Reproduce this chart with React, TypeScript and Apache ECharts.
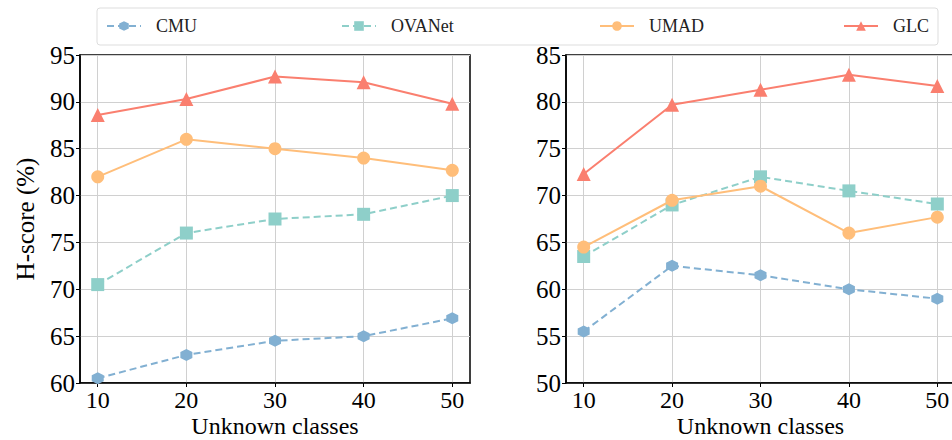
import React, { useEffect, useRef } from "react";
import * as echarts from "echarts";

const xValues = [10, 20, 30, 40, 50];
const seriesNames = ["CMU", "OVANet", "UMAD", "GLC"];

const leftCMU = [60.5, 63, 64.5, 65, 66.9];
const leftOVANet = [70.5, 76, 77.5, 78, 80];
const leftUMAD = [82, 86, 85, 84, 82.7];
const leftGLC = [88.6, 90.3, 92.7, 92.1, 89.8];

const rightCMU = [55.5, 62.5, 61.5, 60, 59];
const rightOVANet = [63.5, 69, 72, 70.5, 69.1];
const rightUMAD = [64.5, 69.5, 71, 66, 67.7];
const rightGLC = [72.3, 79.7, 81.3, 82.9, 81.7];

const leftYTicks = [60, 65, 70, 75, 80, 85, 90, 95];
const rightYTicks = [50, 55, 60, 65, 70, 75, 80, 85];

const COLORS = ["#82B0D2", "#8ECFC9", "#FFBE7A", "#FA7F6F"];
const HEX = "path://M0,-1 L0.866,-0.5 L0.866,0.5 L0,1 L-0.866,0.5 L-0.866,-0.5 Z";
const SYMBOLS = [HEX, "rect", "circle", "triangle"];
const SIZES = [12, 13, 13, 14];
const DASHED = [true, true, false, false];
const FONT = "'Liberation Serif', 'Times New Roman', serif";

export default function App() {
  const ref = useRef<HTMLDivElement>(null);
  useEffect(() => {
    if (!ref.current) return;
    const chart = echarts.init(ref.current, undefined, { renderer: "svg" });
    const leftData = [leftCMU, leftOVANet, leftUMAD, leftGLC];
    const rightData = [rightCMU, rightOVANet, rightUMAD, rightGLC];

    const mkSeries = (data: number[][], idx: number) =>
      data.map((vals, i) => ({
        name: seriesNames[i],
        type: "line",
        xAxisIndex: idx,
        yAxisIndex: idx,
        data: vals.map((v, j) => [xValues[j], v]),
        symbol: SYMBOLS[i],
        symbolSize: SIZES[i],
        showSymbol: true,
        itemStyle: { color: COLORS[i] },
        lineStyle: { color: COLORS[i], width: 2, type: DASHED[i] ? [7, 4] : "solid" },
        z: 3 + i,
      }));

    const xAxis = (gridIndex: number) => ({
      type: "value",
      gridIndex,
      min: 8,
      max: 52,
      name: "Unknown classes",
      nameLocation: "middle",
      nameGap: 31,
      nameMoveOverlap: false,
      nameTextStyle: { fontFamily: FONT, fontSize: 24, color: "#000", lineHeight: 24 },
      axisLine: { show: true, lineStyle: { color: "#000", width: 1.5 } },
      axisTick: { show: true, length: 4, inside: false, customValues: xValues, lineStyle: { color: "#000" } },
      axisLabel: { customValues: xValues, fontFamily: FONT, fontSize: 24, lineHeight: 24, color: "#000", margin: 5 },
      splitLine: { show: true, lineStyle: { color: "#d0d0d0", width: 1 } },
    });
    const yAxis = (gridIndex: number, min: number, max: number, ticks: number[], name: string) => ({
      type: "value",
      gridIndex,
      min,
      max,
      interval: 5,
      name,
      nameLocation: "middle",
      nameGap: 42,
      nameTextStyle: { fontFamily: FONT, fontSize: 25, color: "#000" },
      axisLine: { show: true, lineStyle: { color: "#000", width: 1.5 } },
      axisTick: { show: true, length: 4, customValues: ticks, lineStyle: { color: "#000" } },
      axisLabel: { customValues: ticks, fontFamily: FONT, fontSize: 25, color: "#000", margin: 5 },
      splitLine: { show: true, lineStyle: { color: "#d0d0d0", width: 1 } },
    });

    const legends = [
      { name: "CMU", left: 106 },
      { name: "OVANet", left: 341 },
      { name: "UMAD", left: 599 },
      { name: "GLC", left: 843 },
    ].map((l) => ({
      data: [l.name],
      left: l.left,
      top: 17,
      itemWidth: 34,
      itemHeight: 12,
      padding: 0,
      selectedMode: false,
      textStyle: { fontFamily: FONT, fontSize: 18, color: "#222", padding: [0, 0, 0, 10] },
    }));

    chart.setOption({
      animation: false,
      backgroundColor: "#fff",
      textStyle: { fontFamily: FONT },
      graphic: [
        {
          type: "rect",
          shape: { x: 97, y: 8, width: 841, height: 37, r: 3 },
          style: { fill: "#fff", stroke: "#dddddd", lineWidth: 1 },
          z: 10,
        },
      ],
      legend: legends.map((l) => ({ ...l, z: 20 })),
      grid: [
        { left: 80, top: 55, width: 390, height: 328, show: true, borderColor: "#000", borderWidth: 1.5, backgroundColor: "transparent", containLabel: false, outerBoundsMode: "none" },
        { left: 566, top: 55, width: 389, height: 328, show: true, borderColor: "#000", borderWidth: 1.5, backgroundColor: "transparent", containLabel: false, outerBoundsMode: "none" },
      ],
      xAxis: [xAxis(0), xAxis(1)],
      yAxis: [yAxis(0, 60, 95, leftYTicks, "H-score (%)"), yAxis(1, 50, 85, rightYTicks, "")],
      series: [...mkSeries(leftData, 0), ...mkSeries(rightData, 1)],
    });
    return () => chart.dispose();
  }, []);
  return <div ref={ref} style={{ width: 952, height: 440, position: "absolute", left: 0, top: 0 }} />;
}
